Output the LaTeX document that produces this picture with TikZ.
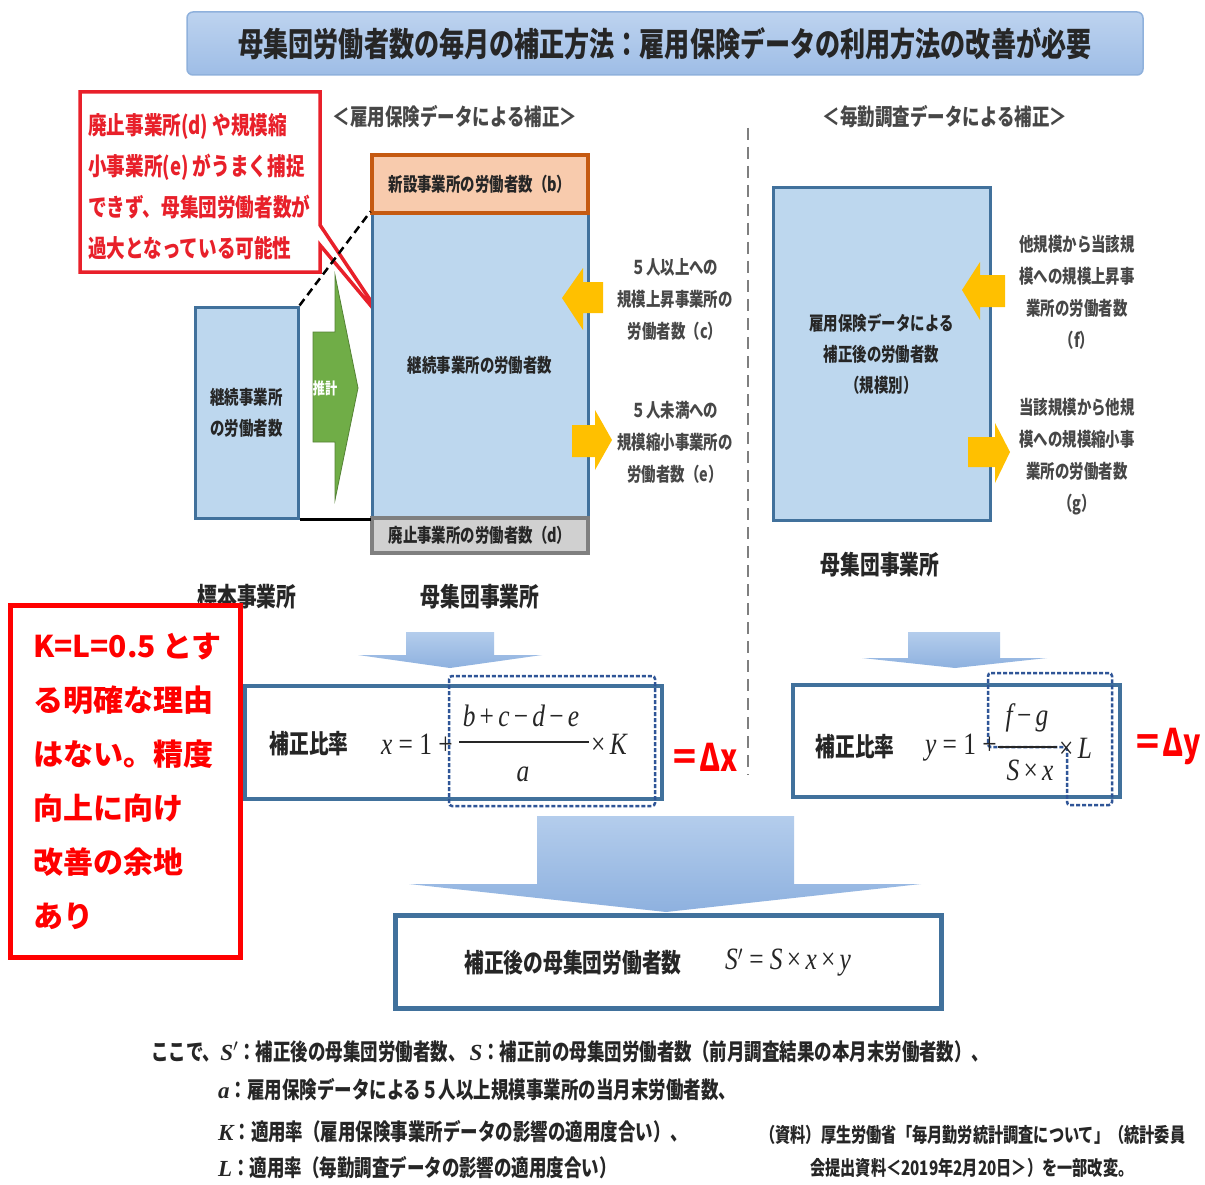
\documentclass[tikz,border=0pt]{standalone}
\usepackage{fontspec}
\usepackage{graphicx}
\newfontfamily\jp[FakeStretch=0.76]{Noto Sans CJK JP}
\newfontfamily\jpw{Noto Sans CJK JP}
\newfontfamily\mf{Liberation Serif}
\newcommand\fsz[2]{\fontsize{#1pt}{#2pt}\selectfont}
\newcommand\cmth[1]{\scalebox{0.82}[1]{\mf #1}}
\newcommand\mi[1]{{\itshape #1}}
\definecolor{bfill}{HTML}{BDD7EE}
\definecolor{bedge}{HTML}{41719C}
\definecolor{ofill}{HTML}{F8CBAD}
\definecolor{oedge}{HTML}{C55A11}
\definecolor{gfill}{HTML}{D0D0D0}
\definecolor{gedge}{HTML}{7F7F7F}
\definecolor{yarrow}{HTML}{FFC000}
\definecolor{garrow}{HTML}{70AD47}
\definecolor{gedgeb}{HTML}{548235}
\definecolor{txt}{HTML}{262626}
\definecolor{dbl}{HTML}{2F5597}
\definecolor{ttop}{HTML}{BDD3EF}
\definecolor{tbot}{HTML}{9EBDE6}
\definecolor{tedge}{HTML}{8FB1DC}
\definecolor{arrtop}{HTML}{B4CDEC}
\definecolor{arrbot}{HTML}{8EB1DF}
\definecolor{redc}{HTML}{FF0000}
\definecolor{calred}{HTML}{E8202A}
\tikzset{
 boxtext/.style={font=\jp\bfseries\fsz{19}{31}, text=txt, align=center},
 bbox/.style={draw=bedge, fill=bfill, line width=3, boxtext},
 obox/.style={draw=oedge, fill=ofill, line width=4, boxtext},
 gbox/.style={draw=gedge, fill=gfill, line width=4, boxtext},
 lbltxt/.style={font=\jp\bfseries\fsz{26}{30}, text=txt},
 hdrtxt/.style={font=\jp\bfseries\fsz{23}{26}, text=txt!85},
 sidetxt/.style={font=\jp\bfseries\fsz{19}{32}, text=txt!85, align=center},
 yarr/.style={fill=yarrow},
 fboxst/.style={draw=bedge, fill=white, line width=4},
 dboxst/.style={draw=dbl, line width=2.5, dash pattern=on 4pt off 2pt, rounded corners=3},
 mtext/.style={font=\fsz{31}{34}, text=txt},
 deltatxt/.style={font=\jp\bfseries\fsz{38}{40}, text=redc},
 notetxt/.style={font=\jp\bfseries\fsz{23}{26}, text=txt, anchor=west},
 titlebox/.style={draw=tedge, line width=1.5, rounded corners=6, top color=ttop, bottom color=tbot, font=\jp\bfseries\fsz{33}{36}, text=txt},
 arrshade/.style={top color=arrtop, bottom color=arrbot},
}
\begin{document}
\begin{tikzpicture}[x=1pt,y=-1pt, every node/.style={inner sep=0pt}]
\useasboundingbox (0,0) rectangle (1205,1185);
\fill[white] (0,0) rectangle (1205,1185);

% title
\node[titlebox, minimum width=956, minimum height=63] (title) at (665,43.5) {母集団労働者数の毎月の補正方法：雇用保険データの利用方法の改善が必要};

% callout
\draw[draw=calred, line width=3.5, fill=white, line join=miter] (80,92) -- (320,92) -- (320,225) -- (387,325) -- (320,245) -- (320,272) -- (80,272) -- cycle;
\node[font=\jp\bfseries\fsz{24.5}{41}, text=calred, align=left, anchor=west] (calltext) at (88,187) {廃止事業所(d) や規模縮\\小事業所(e) がうまく捕捉\\できず、母集団労働者数が\\過大となっている可能性};

% headers
\node[hdrtxt] (hdrl) at (455,117) {＜雇用保険データによる補正＞};
\node[hdrtxt] (hdrr) at (945,117) {＜毎勤調査データによる補正＞};

% left column
\node[bbox, minimum width=216, minimum height=305] (cont) at (480,365.5) {継続事業所の労働者数};
\node[obox, minimum width=216, minimum height=58] (newb) at (480,184) {新設事業所の労働者数（b）};
\node[gbox, minimum width=216, minimum height=35] (closed) at (480,535.5) {廃止事業所の労働者数（d）};
\node[bbox, minimum width=103, minimum height=211] (samp) at (246.5,412.5) {継続事業所\\の労働者数};
\draw[line width=2.5, dash pattern=on 8pt off 5pt] (samp.north east) -- (cont.north west);
\draw[line width=3] (samp.south east) -- (cont.south west);

% green arrow
\draw[fill=garrow, draw=gedgeb, line width=0.8] (313,332) -- (335,332) -- (335,275) -- (358,388) -- (335,500) -- (335,442) -- (313,442) -- cycle;
\node[font=\jp\bfseries\fsz{16}{18}, text=white] (est) at (325,388) {推計};

% right column box
\node[bbox, minimum width=217, minimum height=332] (rbox) at (881.5,354) {雇用保険データによる\\補正後の労働者数\\（規模別）};

% yellow arrows
\fill[yarr] (562,298) -- (583,268) -- (583,282) -- (603,282) -- (603,313) -- (583,313) -- (583,330) -- cycle;
\fill[yarr] (572,425) -- (595,425) -- (595,410) -- (612,440) -- (595,470) -- (595,457) -- (572,457) -- cycle;
\fill[yarr] (962,290) -- (980,262) -- (980,275) -- (1005,275) -- (1005,307) -- (980,307) -- (980,320) -- cycle;
\fill[yarr] (968,437) -- (995,437) -- (995,423) -- (1010,452) -- (995,483) -- (995,467) -- (968,467) -- cycle;

\node[sidetxt] (ctext) at (675,299) {５人以上への\\規模上昇事業所の\\労働者数（c）};
\node[sidetxt] (etext) at (675,442) {５人未満への\\規模縮小事業所の\\労働者数（e）};
\node[sidetxt] (ftext) at (1077,292) {他規模から当該規\\模への規模上昇事\\業所の労働者数\\（f）};
\node[sidetxt] (gtext) at (1077,457) {当該規模から他規\\模への規模縮小事\\業所の労働者数\\（g）};

% divider
\coordinate (vtop) at (748,128);
\coordinate (vbot) at (748,775);
\draw[gedge, line width=1.5, dash pattern=on 12pt off 7pt] (vtop) -- (vbot);

% labels
\node[lbltxt] (lblsamp) at (247,597) {標本事業所};
\node[lbltxt] (lblpop) at (480,597) {母集団事業所};
\node[lbltxt] (lblpopr) at (880,565) {母集団事業所};

% small down arrows
\shade[arrshade] (406,632) -- (494,632) -- (494,655) -- (542,655) -- (450,668) -- (358,655) -- (406,655) -- cycle;
\shade[arrshade] (908,632) -- (1000,632) -- (1000,658) -- (1047,658) -- (955,668) -- (862,658) -- (908,658) -- cycle;

% left formula
\node[fboxst, minimum width=417, minimum height=113] (fx) at (453.5,742.5) {};
\draw[dboxst] (449,676) rectangle (655,806);
\node[lbltxt] (fxl) at (309,744) {補正比率};
\node[mtext, anchor=east] (fx1) at (453,744) {\cmth{\mi{x} = 1 +}};
\node[mtext] (fxn) at (521,716) {\cmth{\mi{b}\,+\,\mi{c}\,−\,\mi{d}\,−\,\mi{e}}};
\draw[txt, line width=1.5] (459,742) -- (589,742);
\node[mtext] (fxd) at (523,774) {\cmth{\mi{a}}};
\node[mtext, anchor=west] (fxk) at (591,744) {\cmth{×\,\mi{K}}};
\node[deltatxt] (dx) at (704,757) {＝Δx};

% right formula
\node[fboxst, minimum width=327, minimum height=112] (fy) at (956.5,741) {};
\draw[dboxst] (988,673) -- (1112,673) -- (1112,805) -- (1067,805) -- (1067,747) -- (988,747) -- cycle;
\node[lbltxt] (fyl) at (855,747) {補正比率};
\node[mtext, anchor=east] (fy1) at (997,748) {\cmth{\mi{y} = 1 +}};
\node[mtext] (fyn) at (1027,718) {\cmth{\mi{f}\,−\,\mi{g}}};
\draw[txt, line width=1.5] (998,747) -- (1057,747);
\node[mtext] (fyd) at (1030,770) {\cmth{\mi{S}\,×\,\mi{x}}};
\node[mtext, anchor=west] (fyk) at (1059,748) {\cmth{×\,\mi{L}}};
\node[deltatxt] (dy) at (1167,747) {＝Δy};

% big arrow
\shade[arrshade] (537,816) -- (794,816) -- (794,884) -- (921,884) -- (666,912) -- (409,884) -- (537,884) -- cycle;

% result box
\node[fboxst, line width=5, minimum width=546, minimum height=93] (res) at (668,961.5) {};
\node[lbltxt] (resl) at (573,963) {補正後の母集団労働者数};
\node[mtext] (resm) at (788,963) {\cmth{\mi{S}$'$ = \mi{S}\,×\,\mi{x}\,×\,\mi{y}}};

% K=L box
\node[draw=redc, line width=5, fill=white, minimum width=230, minimum height=352] (klbox) at (125,781) {};
\node[font=\jpw\bfseries\fsz{30}{54}, text=redc, align=left, anchor=west] (kltext) at (33,781) {K=L=0.5 とす\\る明確な理由\\はない。精度\\向上に向け\\改善の余地\\あり};

% notes
\node[notetxt] (n1) at (151,1052) {ここで、{\mf\itshape S$'$}：補正後の母集団労働者数、 {\mf\itshape S}：補正前の母集団労働者数（前月調査結果の本月末労働者数）、};
\node[notetxt] (n2) at (218,1090) {{\mf\itshape a}：雇用保険データによる５人以上規模事業所の当月末労働者数、};
\node[notetxt] (n3) at (218,1132) {{\mf\itshape K}：適用率（雇用保険事業所データの影響の適用度合い）、};
\node[notetxt] (n4) at (218,1168) {{\mf\itshape L}：適用率（毎勤調査データの影響の適用度合い）};
\node[notetxt, font=\jp\bfseries\fsz{20}{26}] (s1) at (760,1135) {（資料）厚生労働省「毎月勤労統計調査について」（統計委員};
\node[notetxt, font=\jp\bfseries\fsz{20}{26}] (s2) at (810,1168) {会提出資料＜2019年2月20日＞）を一部改変。};
\end{tikzpicture}
\end{document}
